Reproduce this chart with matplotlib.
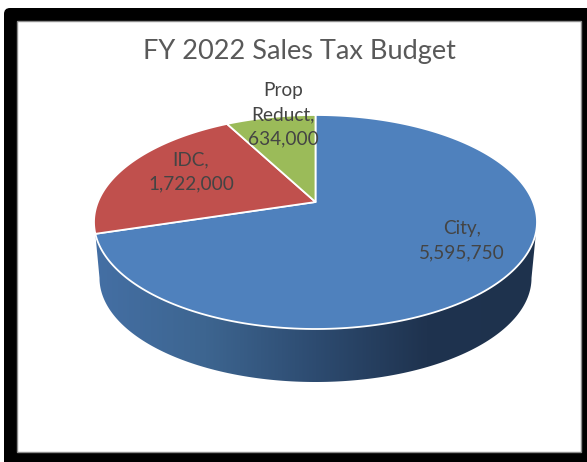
import numpy as np
import matplotlib
matplotlib.use("Agg")
import matplotlib.pyplot as plt
from matplotlib.colors import LinearSegmentedColormap
from matplotlib.patches import FancyBboxPatch, Polygon, Rectangle

# --- Data ---
CATEGORIES = ['City', 'IDC', 'Prop\nReduct']
BUDGET = [5595750, 1722000, 634000]
COLORS = ['#4f81bd', '#c0504d', '#9bbb59']
TITLE = 'FY 2022 Sales Tax Budget'

# --- Layout of the tilted pie, in pixels ---
WIDTH, HEIGHT = 587, 462
CX, CY = 315.5, 222    # centre of the top ellipse
RX, RY = 221.5, 107
APEX_Y = 202           # perspective moves the apex above the ellipse centre
LOW_CY, LOW_RX, LOW_RY = 278, 216, 104  # bottom rim of the wall

plt.rcParams['font.family'] = ['Lato', 'DejaVu Sans']


def rim_point(theta):
    # where the ray from the apex, at clockwise angle theta, meets the top ellipse
    dx, dy = RX * np.sin(theta), -RY * np.cos(theta)
    off = APEX_Y - CY
    a = (dx / RX) ** 2 + (dy / RY) ** 2
    b = 2 * dy * off / RY ** 2
    c = (off / RY) ** 2 - 1
    t = (-b + np.sqrt(b * b - 4 * a * c)) / (2 * a)
    return CX + t * dx, APEX_Y + t * dy


def wedge_outline(start, stop):
    thetas = np.linspace(start, stop, 200)
    rim = [rim_point(t) for t in thetas]
    return [(CX, APEX_Y)] + rim


fig = plt.figure(figsize=(WIDTH / 100, HEIGHT / 100), dpi=100, facecolor='white')
ax = fig.add_axes([0, 0, 1, 1])
ax.set_xlim(0, WIDTH)
ax.set_ylim(HEIGHT, 0)
ax.axis('off')

# heavy black frame around the chart
ax.add_patch(FancyBboxPatch((10, 14), 600, 470, boxstyle='round,pad=6,rounding_size=6',
                            fc='black', ec='none', zorder=1))
ax.add_patch(Rectangle((17, 21), 563.5, 431, fc='white', ec='#8c8c8c', lw=1.0, zorder=2))

# side wall under the City slice
fractions = np.array(BUDGET) / sum(BUDGET)
edges = np.concatenate([[0], np.cumsum(fractions)]) * 2 * np.pi
x_left, y_left = rim_point(edges[1])
x_right = CX + RX

phi = np.linspace(0, np.pi, 300)
lower_x = CX + LOW_RX * np.cos(phi)
lower_y = LOW_CY + LOW_RY * np.sin(phi)
top_x = np.linspace(x_left, x_right, 300)
top_y = CY + RY * np.sqrt(np.clip(1 - ((top_x - CX) / RX) ** 2, 0, 1))
wall = Polygon(list(zip(lower_x, lower_y)) + list(zip(top_x, top_y)),
               fc='none', ec='none', zorder=3)
ax.add_patch(wall)
wall_cmap = LinearSegmentedColormap.from_list(
    'wall', [(0, '#446fa4'), (0.25, '#3d6590'), (0.5, '#2d4b70'),
             (0.75, '#1f334f'), (1, '#1e324d')])
img = ax.imshow(np.linspace(0, 1, 256)[None, :], cmap=wall_cmap, aspect='auto',
                extent=(x_left, x_right, 390, 225), zorder=3)
img.set_clip_path(wall)
ax.set_xlim(0, WIDTH)
ax.set_ylim(HEIGHT, 0)

# top face, clockwise from twelve o'clock
for k, color in enumerate(COLORS):
    ax.add_patch(Polygon(wedge_outline(edges[k], edges[k + 1]), closed=True,
                         fc=color, ec='white', lw=1.3, joinstyle='round', zorder=4))

ax.text(299.5, 52, TITLE, color='#595959', fontsize=19.5, ha='center', va='center', zorder=6)

# labels sit where the chart placed them by hand
label_pos = [(462, 241), (191, 172), (283, 115)]
for name, value, (lx, ly) in zip(CATEGORIES, BUDGET, label_pos):
    ax.text(lx, ly, f'{name},\n{value:,}', color='#444444', fontsize=13.7, ha='center',
            va='center', linespacing=1.52, zorder=6)

fig.savefig('out.png', dpi=100)
